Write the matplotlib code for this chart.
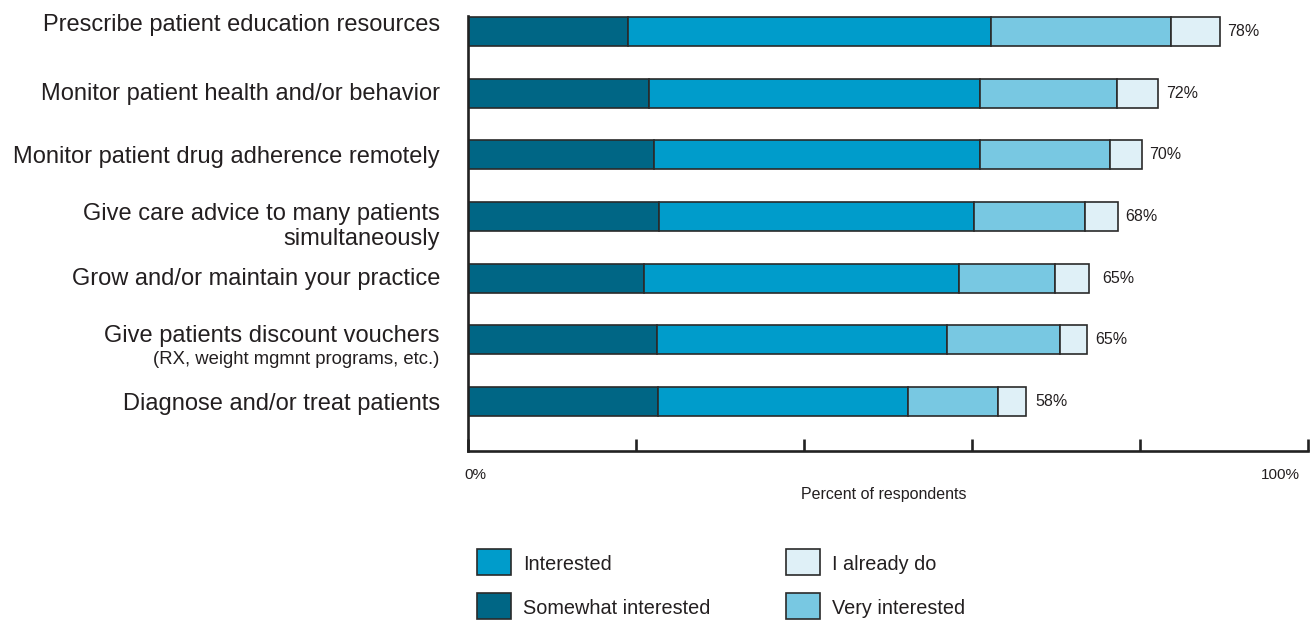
import matplotlib
matplotlib.use("Agg")
import matplotlib.pyplot as plt
from matplotlib.patches import Rectangle

plt.rcParams['font.family'] = ['Liberation Sans', 'DejaVu Sans']

categories = [
    "Prescribe patient education resources",
    "Monitor patient health and/or behavior",
    "Monitor patient drug adherence remotely",
    "Give care advice to many patients\nsimultaneously",
    "Grow and/or maintain your practice",
    "Give patients discount vouchers",
    "Diagnose and/or treat patients",
]
subtitles = ["", "", "", "", "", "(RX, weight mgmnt programs, etc.)", ""]
somewhat = [19.0, 21.5, 22.1, 22.7, 21.0, 22.5, 22.6]
interested = [43.3, 39.5, 38.9, 37.5, 37.5, 34.5, 29.8]
very = [21.4, 16.3, 15.4, 13.2, 11.4, 13.5, 10.7]
already = [5.8, 4.9, 3.8, 4.0, 4.0, 3.2, 3.3]
value_labels = ["78%", "72%", "70%", "68%", "65%", "65%", "58%"]
ticks = [0, 20, 40, 60, 80, 100]

series = [
    ("Somewhat interested", somewhat, "#006685"),
    ("Interested", interested, "#009ccb"),
    ("Very interested", very, "#78c8e2"),
    ("I already do", already, "#dff0f7"),
]

TXT = "#231f20"
W, H = 1312, 620
fig = plt.figure(figsize=(W / 100, H / 100), dpi=100)

def fx(x):
    return x / W

def fy(y):
    return 1 - y / H

ax_left, ax_right, ax_top, ax_bottom = 468, 1308, 16, 451
ax = fig.add_axes([fx(ax_left), fy(ax_bottom), (ax_right - ax_left) / W, (ax_bottom - ax_top) / H])

ypos = list(range(len(categories)))
left = [0.0] * len(categories)
for name, vals, col in series:
    ax.barh(ypos, vals, left=left, height=0.47, color=col, edgecolor="#2a2a2a", linewidth=1.2, label=name)
    left = [l + v for l, v in zip(left, vals)]

gaps = [0.9, 0.9, 0.9, 0.8, 1.6, 1.0, 1.2]
for i, (tot, lab) in enumerate(zip(left, value_labels)):
    ax.text(tot + gaps[i], i, lab, va="center", ha="left", fontsize=11.5, color=TXT)

ax.set_xlim(0, 100)
ax.set_ylim(6.80, -0.251)
for s in ["top", "right"]:
    ax.spines[s].set_visible(False)
for s in ["left", "bottom"]:
    ax.spines[s].set_linewidth(1.9)
    ax.spines[s].set_color("#222222")
ax.set_xticks(ticks)
ax.set_xticklabels([])
ax.set_yticks([])
ax.tick_params(axis="x", direction="in", length=9, width=1.9, color="#222222")

# axis labels
fig.text(fx(464), fy(475), "0%", ha="left", va="center", fontsize=11, color=TXT)
fig.text(fx(1300), fy(475), "100%", ha="right", va="center", fontsize=11, color=TXT)
fig.text(fx(884), fy(494), "Percent of respondents", ha="center", va="center", fontsize=11.5, color=TXT)

# category labels (baselines in pixels)
baselines = [31, 100, 163, 220, 285, 342, 410]
line_step = 25
sub_baseline_offset = 22
for i, (cat, sub) in enumerate(zip(categories, subtitles)):
    for j, line in enumerate(cat.split("\n")):
        fig.text(fx(440), fy(baselines[i] + j * line_step), line, ha="right", va="baseline",
                 fontsize=17, color=TXT)
    if sub:
        fig.text(fx(439), fy(baselines[i] + sub_baseline_offset), sub, ha="right", va="baseline",
                 fontsize=13.3, color=TXT)

# legend
legend_items = [
    ("Interested", "#009ccb", 477, 549),
    ("Somewhat interested", "#006685", 477, 593),
    ("I already do", "#dff0f7", 786, 549),
    ("Very interested", "#78c8e2", 786, 593),
]
for name, col, x, y in legend_items:
    fig.add_artist(Rectangle((fx(x), fy(y + 26)), 34 / W, 26 / H, transform=fig.transFigure,
                             facecolor=col, edgecolor="#2a2a2a", linewidth=1.2))
    fig.text(fx(x + 46), fy(y + 21), name, ha="left", va="baseline", fontsize=14.3, color=TXT)

fig.savefig("out.png", dpi=100)
